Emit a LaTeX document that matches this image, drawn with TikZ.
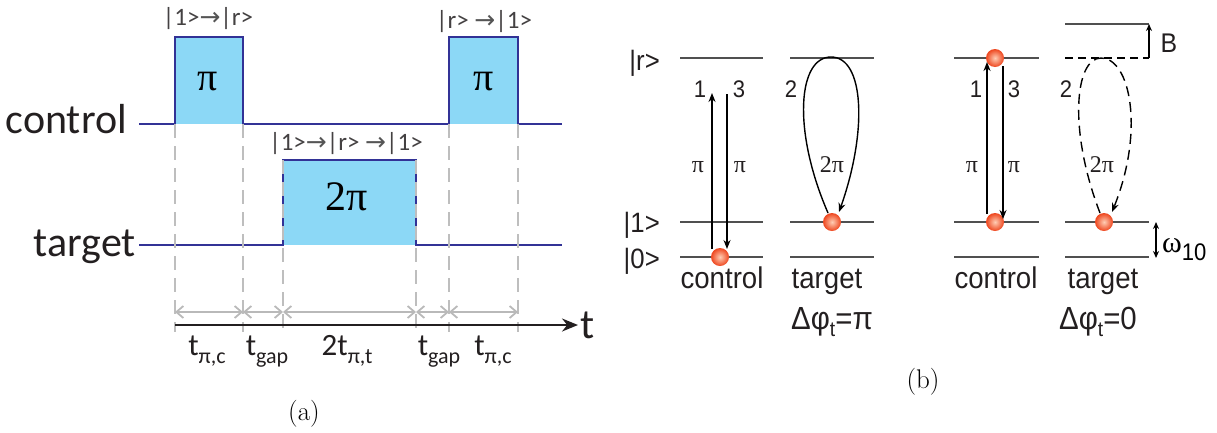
\documentclass[tikz,border=0pt]{standalone}
\usepackage{fontspec}
\usepackage{tikz}
\usetikzlibrary{arrows.meta,positioning,calc}
\newfontfamily\afont{Carlito}
\newfontfamily\bfont[FakeStretch=0.92]{Liberation Sans}
\newfontfamily\serfont{Liberation Serif}
\newfontfamily\arrfont{DejaVu Sans}
\definecolor{pulsefill}{RGB}{140,216,246}
\definecolor{pulseline}{RGB}{50,50,150}
\definecolor{guidegray}{RGB}{190,190,190}
\definecolor{spangray}{RGB}{185,185,185}
\definecolor{lvlgray}{RGB}{80,80,80}
\definecolor{inkdark}{RGB}{35,31,32}
\definecolor{arrgray}{RGB}{85,85,85}
\definecolor{ballred}{RGB}{238,70,30}
\definecolor{ballhi}{RGB}{255,205,180}
\newcommand{\fs}[1]{\fontsize{#1}{#1}\selectfont}
\newcommand{\kar}{{\arrfont\color{arrgray}→}}
\newcommand{\sbA}[1]{\raisebox{-8pt}{\fs{22}#1}}
\newcommand{\sbB}[1]{\raisebox{-7pt}{\fs{21}#1}}
\tikzset{
  wave/.style={draw=pulseline,line width=2pt},
  guide/.style={draw=guidegray,line width=1.8pt,dash pattern=on 14pt off 8pt},
  span/.style={draw=spangray,line width=1.8pt,
               {Straight Barb[length=7pt,width=12pt]}-{Straight Barb[length=7pt,width=12pt]}},
  axis/.style={draw=inkdark,line width=2pt,-{Stealth[length=16pt,width=13pt]}},
  lvl/.style={draw=lvlgray,line width=1.6pt},
  tr/.style={-{Stealth[length=9pt,width=7pt]},line width=1.4pt},
  ball/.style={circle,minimum size=18pt,inner sep=0pt,
               inner color=ballhi,outer color=ballred},
  lblA/.style={font=\afont\fs{25},text=inkdark!85,inner sep=0pt},
  tlbl/.style={font=\afont\fs{31},text=inkdark,inner sep=0pt,anchor=base},
  lblB/.style={font=\bfont\fs{24},text=inkdark,inner sep=0pt},
  pilbl/.style={font=\serfont\fs{24},text=inkdark,inner sep=0pt},
}
\begin{document}
\begin{tikzpicture}[x=1pt,y=-1pt]
  \useasboundingbox (0,0) rectangle (1217,432);
  % (a) pulse sequence
  \fill[pulsefill] (175,37) rectangle (243,124);
  \fill[pulsefill] (449,37) rectangle (518,124);
  \fill[pulsefill] (283,160) rectangle (416,245);
  \draw[wave] (139,124) -| (175,37) -| (243,124) -| (449,37) -| (518,124) -- (562,124);
  \draw[wave] (139,245) -| (283,160) -| (416,245) -- (562,245);
  \foreach \x/\y in {175/124,243/124,283/160,416/160,449/124,518/124}
    \draw[guide] (\x,\y) -- (\x,332);
  \foreach \x [count=\i from 0] in {175,243,283,416,449,518}
    \coordinate (g\i) at (\x,312);
  \foreach \i [evaluate=\i as \j using int(\i+1)] in {0,...,4}
    \draw[span] (g\i) -- (g\j);
  \coordinate (t0) at (175,325);
  \coordinate (t1) at (578,325);
  \draw[axis] (t0) -- (t1);
  \node[anchor=base west,font=\afont\fs{42},text=inkdark,inner sep=0pt] (tt) at (580,338) {t};

  \node[anchor=base east,font=\afont\fs{42},text=inkdark,inner sep=0pt] (ctl) at (127,133) {control};
  \node[anchor=base east,font=\afont\fs{42},text=inkdark,inner sep=0pt] (tgt) at (136,256) {target};
  \node[anchor=base,font=\serfont\fs{40},inner sep=0pt] (p1) at (208,90) {π};
  \node[anchor=base,font=\serfont\fs{40},inner sep=0pt] (p3) at (484,90) {π};
  \node[anchor=base,font=\serfont\fs{42},inner sep=0pt] (p2) at (347,210) {2π};
  \node[lblA,anchor=base] (k1) at (208,25) {|1>\kar|r>};
  \node[lblA,anchor=base] (k3) at (484,28) {|r> \kar|1>};
  \node[lblA,anchor=base] (k2) at (346,150) {|1>\kar|r> \kar|1>};

  \node[tlbl] (d1) at (207,355) {t\sbA{π,c}};
  \node[tlbl] (d2) at (267,355) {t\sbA{gap}};
  \node[tlbl] (d3) at (347,355) {2t\sbA{π,t}};
  \node[tlbl] (d4) at (439,355) {t\sbA{gap}};
  \node[tlbl] (d5) at (493,355) {t\sbA{π,c}};
  \node[font=\fs{27}] (capa) at (304,414) {(a)};

  % (b) level schemes
  \foreach \xa/\xb in {680/763,790/874,954/1039}
    \draw[lvl] (\xa,58) -- (\xb,58);
  \foreach \xa/\xb in {680/763,790/874,954/1039,1065/1149} {
    \draw[lvl] (\xa,222) -- (\xb,222);
    \draw[lvl] (\xa,257) -- (\xb,257);
  }
  \draw[lvl] (1065,24) -- (1149,24);
  \draw[lvl,draw=black,dash pattern=on 8pt off 5pt] (1065,58) -- (1149,58);
  \coordinate (bB0) at (1149,58);
  \coordinate (bB1) at (1149,24);
  \draw[-{Stealth[length=7pt,width=6pt]},line width=1.2pt] (bB0) -- (bB1);
  \node[lblB,font=\bfont\fs{27},anchor=base] (bl) at (1169,52) {B};
  \coordinate (w0) at (1156,222);
  \coordinate (w1) at (1156,258);
  \draw[{Stealth[length=7pt,width=6pt]}-{Stealth[length=7pt,width=6pt]},line width=1.2pt] (w0) -- (w1);
  \node[anchor=base west,inner sep=0pt] (om) at (1162,252)
    {{\serfont\fs{30}ω}{\bfont\fs{24}\raisebox{-8pt}{10}}};

  \node[ball] (bcl) at (720,257) {};
  \node[ball] (btl) at (832,222) {};
  \node[ball] (bcr1) at (995,58) {};
  \node[ball] (bcr2) at (995,222) {};
  \node[ball] (btr) at (1104,222) {};

  \coordinate (clu0) at (712,249);
  \coordinate (clu1) at (712,93);
  \coordinate (cld0) at (727,94);
  \coordinate (cld1) at (727,249);
  \draw[tr] (clu0) -- (clu1);
  \draw[tr] (cld0) -- (cld1);
  \coordinate (cru0) at (987,214);
  \coordinate (cru1) at (987,62);
  \coordinate (crd0) at (1003,66);
  \coordinate (crd1) at (1003,219);
  \draw[tr] (cru0) -- (cru1);
  \draw[tr] (crd0) -- (crd1);

  \coordinate (tla) at (828,213);
  \coordinate (tltop) at (831,57);
  \coordinate (tlb) at (839,212);
  \draw[tr] (tla) .. controls (792,130) and (798,57) .. (tltop)
                  .. controls (864,57) and (868,130) .. (tlb);
  \coordinate (tra) at (1100,213);
  \coordinate (trtop) at (1101,58);
  \coordinate (trb) at (1112,212);
  \draw[tr,dash pattern=on 10pt off 6pt] (tra) .. controls (1068,130) and (1075,58) .. (trtop)
                  .. controls (1130,58) and (1145,130) .. (trb);

  % level and step labels
  \node[lblB,font=\bfont\fs{28},anchor=base east] (lr) at (660,70) {|r>};
  \node[lblB,font=\bfont\fs{28},anchor=base east] (l1) at (660,232) {|1>};
  \node[lblB,font=\bfont\fs{28},anchor=base east] (l0) at (660,268) {|0>};
  \foreach \x/\t [count=\i] in {700/1,739/3,791/2,976/1,1014/3,1066/2}
    \node[lblB,anchor=base] (s\i) at (\x,97) {\t};
  \foreach \x/\t [count=\i] in {698/π,740/π,832/2π,972/π,1014/π,1102/2π}
    \node[pilbl,anchor=base] (q\i) at (\x,172) {\t};
  \node[lblB,font=\bfont\fs{30},anchor=base] (nc1) at (722,288) {control};
  \node[lblB,font=\bfont\fs{30},anchor=base] (nt1) at (827,288) {target};
  \node[lblB,font=\bfont\fs{30},anchor=base] (nc2) at (996,288) {control};
  \node[lblB,font=\bfont\fs{30},anchor=base] (nt2) at (1103,288) {target};
  \node[lblB,font=\bfont\fs{32},anchor=base] (ph1) at (832,329) {Δφ\sbB{t}=π};
  \node[lblB,font=\bfont\fs{32},anchor=base] (ph2) at (1098,329) {Δφ\sbB{t}=0};
  \node[font=\fs{27}] (capb) at (923,382) {(b)};
\end{tikzpicture}
\end{document}
